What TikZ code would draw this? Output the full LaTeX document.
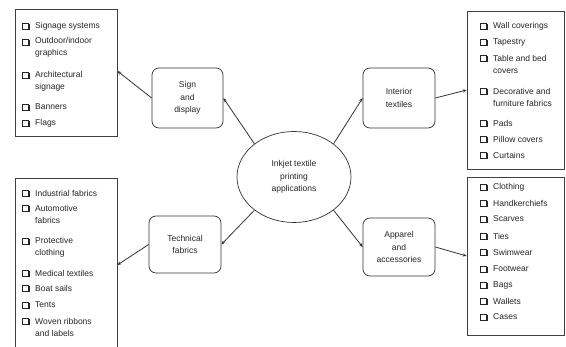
\documentclass[tikz,border=0pt]{standalone}
\usepackage{fontspec}
\setmainfont{Liberation Sans}
\usetikzlibrary{arrows.meta,shapes.geometric}
\newcommand{\litem}[5]{%
  \fill[black!85] (#2-1.9,#3-1.9) rectangle (#2+4.5,#3+4.5);
  \node[chk] (c#1) at (#2,#3) {};
  \node[itm] (t#1) at (#2+10,#4) {#5};}
\begin{document}
\begin{tikzpicture}[x=1pt,y=-1pt,
  every node/.style={text=black!85},
  lst/.style={draw=black!75, line width=0.7pt, rectangle, inner sep=0},
  cat/.style={draw=black!80, line width=0.7pt, rectangle, rounded corners=7pt, align=center, font=\fontsize{8.5}{12.5}\selectfont, inner sep=0},
  hub/.style={draw=black!80, line width=0.7pt, ellipse, align=center, font=\fontsize{8.5}{12.5}\selectfont, inner sep=0, minimum width=114pt, minimum height=91pt},
  chk/.style={draw=black!85, fill=white, line width=0.7pt, minimum size=6pt, inner sep=0},
  itm/.style={anchor=west, align=left, inner sep=0, font=\fontsize{8.5}{12}\selectfont},
  arr/.style={draw=black!80, line width=0.8pt, -{Stealth[length=4pt,width=3.2pt]}}]
\useasboundingbox (0,0) rectangle (566,347);
\clip (0,0) rectangle (566,347);
\fill[white] (0,0) rectangle (566,347);
% list boxes
\node[lst, minimum width=102pt, minimum height=127pt] (L1) at (66,72.5) {};
\node[lst, minimum width=97pt, minimum height=158pt] (R1) at (515.5,90) {};
\node[lst, minimum width=102pt, minimum height=174pt] (L2) at (66,265) {};
\node[lst, minimum width=97pt, minimum height=158pt] (R2) at (515.5,256) {};
% category boxes
\node[cat, minimum width=71pt, minimum height=60pt] (sign) at (187.5,98) {Sign\\and\\display};
\node[cat, minimum width=72pt, minimum height=60pt] (int) at (399,98) {Interior\\textiles};
\node[cat, minimum width=72pt, minimum height=57pt] (tech) at (185,244.5) {Technical\\fabrics};
\node[cat, minimum width=72pt, minimum height=58pt] (app) at (399,247) {Apparel\\and\\accessories};
\node[hub] (hub) at (294,177) {Inkjet textile\\printing\\applications};
% connectors
\draw[arr] (hub.140) -- (sign.east);
\draw[arr] (hub.40) -- (int.west);
\draw[arr] (hub.220) -- (tech.east);
\draw[arr] (hub.-40) -- (app.west);
\draw[arr] (sign.west) -- ([yshift=1.5pt]L1.east);
\draw[arr] (int.east) -- (R1.west);
\draw[arr] (tech.west) -- (L2.east);
\draw[arr] (app.east) -- (R2.west);
% top-left list
\litem{a1}{25}{26}{26}{Signage systems}
\litem{a2}{25}{42}{47.5}{Outdoor/indoor\\graphics}
\litem{a3}{25}{75}{81.5}{Architectural\\signage}
\litem{a4}{25}{107}{107}{Banners}
\litem{a5}{25}{123}{123}{Flags}
% top-right list
\litem{b1}{483}{26}{26}{Wall coverings}
\litem{b2}{483}{42}{42}{Tapestry}
\litem{b3}{483}{58}{64.5}{Table and bed\\covers}
\litem{b4}{483}{91}{97}{Decorative and\\furniture fabrics}
\litem{b5}{483}{123}{123}{Pads}
\litem{b6}{483}{139}{139}{Pillow covers}
\litem{b7}{483}{155}{155}{Curtains}
% bottom-left list
\litem{d1}{25}{193}{193}{Industrial fabrics}
\litem{d2}{25}{208}{214}{Automotive\\fabrics}
\litem{d3}{25}{241}{247}{Protective\\clothing}
\litem{d4}{25}{273}{273}{Medical textiles}
\litem{d5}{25}{288}{288}{Boat sails}
\litem{d6}{25}{305}{305}{Tents}
\litem{d7}{25}{321}{327}{Woven ribbons\\and labels}
% bottom-right list
\litem{e1}{483}{187}{187}{Clothing}
\litem{e2}{483}{203}{203}{Handkerchiefs}
\litem{e3}{483}{219}{219}{Scarves}
\litem{e4}{483}{236}{236}{Ties}
\litem{e5}{483}{252}{252}{Swimwear}
\litem{e6}{483}{269}{269}{Footwear}
\litem{e7}{483}{285}{285}{Bags}
\litem{e8}{483}{301}{301}{Wallets}
\litem{e9}{483}{317}{317}{Cases}
\end{tikzpicture}
\end{document}
